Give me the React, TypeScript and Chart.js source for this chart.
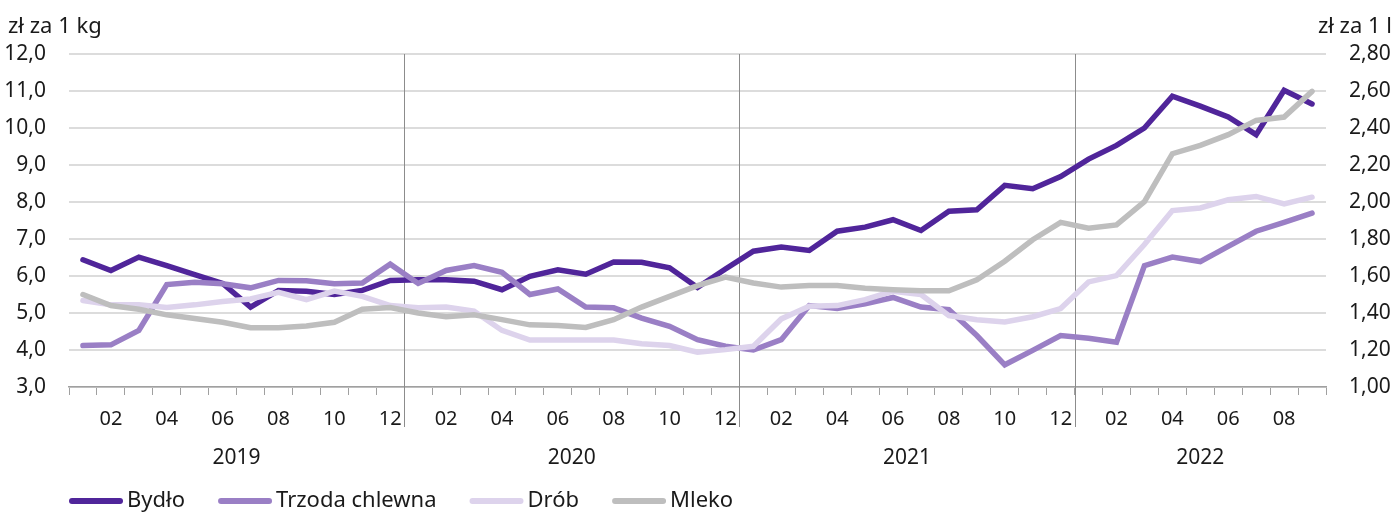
import { useEffect, useRef } from 'react';
import { Chart, registerables } from 'chart.js';

Chart.register(...registerables);

const FONT = '"Noto Sans", "Open Sans", sans-serif';
const TEXT = '#1a1a1a';

const years = ['2019', '2020', '2021', '2022'];
const monthsInYear = [12, 12, 12, 9];

const categories: string[] = [];
years.forEach((y, i) => {
  for (let m = 1; m <= monthsInYear[i]; m++) categories.push(`${y}-${String(m).padStart(2, '0')}`);
});

const leftAxisTitle = 'zł za 1 kg';
const rightAxisTitle = 'zł za 1 l';

const seriesNames = ['Bydło', 'Trzoda chlewna', 'Drób', 'Mleko'];
const seriesColors = ['#50259a', '#9a7fc5', '#ddd3ec', '#bebebe'];

const bydlo = [
  6.44, 6.15, 6.51, 6.28, 6.04, 5.8, 5.16, 5.61, 5.59, 5.5, 5.61, 5.88,
  5.9, 5.9, 5.86, 5.63, 5.99, 6.17, 6.05, 6.38, 6.37, 6.22, 5.69, 6.19,
  6.67, 6.78, 6.69, 7.21, 7.32, 7.52, 7.23, 7.75, 7.79, 8.45, 8.36, 8.69,
  9.16, 9.53, 10.0, 10.86, 10.59, 10.3, 9.82, 11.02, 10.65,
];
const trzoda = [
  4.12, 4.14, 4.53, 5.77, 5.83, 5.79, 5.68, 5.88, 5.87, 5.79, 5.81, 6.32,
  5.8, 6.15, 6.28, 6.1, 5.5, 5.65, 5.16, 5.14, 4.86, 4.64, 4.28, 4.1,
  4.0, 4.28, 5.2, 5.12, 5.25, 5.42, 5.16, 5.09, 4.39, 3.6, 3.99, 4.39,
  4.32, 4.21, 6.28, 6.51, 6.39, 6.8, 7.21, 7.45, 7.7,
];
const drob = [
  5.34, 5.22, 5.22, 5.15, 5.22, 5.31, 5.38, 5.56, 5.36, 5.59, 5.45, 5.2,
  5.14, 5.16, 5.05, 4.53, 4.27, 4.27, 4.27, 4.27, 4.17, 4.12, 3.94, 4.01,
  4.1, 4.84, 5.18, 5.2, 5.36, 5.59, 5.5, 4.93, 4.82, 4.76, 4.9, 5.12,
  5.84, 6.01, 6.85, 7.77, 7.84, 8.06, 8.15, 7.95, 8.13,
];
const mleko = [
  1.5, 1.44, 1.42, 1.39, 1.37, 1.35, 1.32, 1.32, 1.33, 1.35, 1.42, 1.43,
  1.4, 1.38, 1.39, 1.364, 1.336, 1.332, 1.322, 1.364, 1.432, 1.49, 1.548, 1.594,
  1.562, 1.54, 1.548, 1.548, 1.534, 1.526, 1.52, 1.52, 1.58, 1.68, 1.796, 1.89,
  1.858, 1.876, 2.002, 2.261, 2.306, 2.364, 2.441, 2.459, 2.598,
];

const leftMin = 3, leftMax = 12, leftStep = 1;
const rightMin = 1, rightMax = 2.8, rightStep = 0.2;

const decorPlugin = {
  id: 'decor',
  beforeDatasetsDraw(chart: any) {
    const { ctx, chartArea, scales } = chart;
    const x = scales.x;
    const band = x.getPixelForValue(1) - x.getPixelForValue(0);
    ctx.save();
    ctx.strokeStyle = '#8c8c8c';
    ctx.lineWidth = 1;
    let idx = 0;
    for (let i = 0; i < monthsInYear.length - 1; i++) {
      idx += monthsInYear[i];
      const px = Math.round(x.getPixelForValue(idx) - band / 2) + 0.5;
      ctx.beginPath();
      ctx.moveTo(px, chartArea.top);
      ctx.lineTo(px, 427);
      ctx.stroke();
    }
    ctx.restore();
  },
  afterDraw(chart: any) {
    const { ctx, scales } = chart;
    const x = scales.x;
    const band = x.getPixelForValue(1) - x.getPixelForValue(0);
    ctx.save();
    ctx.fillStyle = TEXT;
    ctx.font = `21px ${FONT}`;
    ctx.textBaseline = 'middle';
    ctx.textAlign = 'center';
    let start = 0;
    years.forEach((y, i) => {
      const a = x.getPixelForValue(start) - band / 2;
      const b = x.getPixelForValue(start + monthsInYear[i] - 1) + band / 2;
      ctx.fillText(y, (a + b) / 2, 458);
      start += monthsInYear[i];
    });
    // axis titles
    ctx.font = `22px ${FONT}`;
    ctx.textBaseline = 'alphabetic';
    ctx.textAlign = 'left';
    ctx.fillText(leftAxisTitle, 8, 33);
    ctx.textAlign = 'right';
    ctx.fillText(rightAxisTitle, 1392, 33);
    // legend
    ctx.textAlign = 'left';
    ctx.textBaseline = 'middle';
    let lx = 70;
    const ly = 501;
    seriesNames.forEach((name, i) => {
      ctx.strokeStyle = seriesColors[i];
      ctx.lineWidth = 6;
      ctx.lineCap = 'round';
      ctx.beginPath();
      ctx.moveTo(lx + 2, ly);
      ctx.lineTo(lx + 50, ly);
      ctx.stroke();
      ctx.fillStyle = TEXT;
      ctx.fillText(name, lx + 57, ly);
      lx += 57 + ctx.measureText(name).width + 34;
    });
    ctx.restore();
  },
};

export default function App() {
  const ref = useRef<HTMLCanvasElement>(null);
  useEffect(() => {
    if (!ref.current) return;
    const series = [bydlo, trzoda, drob, mleko];
    const chart = new Chart(ref.current, {
      type: 'line',
      data: {
        labels: categories,
        datasets: series.map((d, i) => ({
          label: seriesNames[i],
          data: d,
          borderColor: seriesColors[i],
          backgroundColor: seriesColors[i],
          borderWidth: 5.5,
          pointRadius: 0,
          pointHoverRadius: 0,
          tension: 0,
          borderCapStyle: 'round' as const,
          borderJoinStyle: 'miter' as const,
          yAxisID: i === 3 ? 'y1' : 'y',
          order: 4 - i,
        })),
      },
      options: {
        responsive: false,
        animation: false,
        devicePixelRatio: 1,
        layout: { padding: { top: 54, bottom: 0, left: 0, right: 0 } },
        plugins: { legend: { display: false }, tooltip: { enabled: false } },
        scales: {
          x: {
            type: 'category',
            offset: true,
            grid: {
              offset: true,
              drawOnChartArea: false,
              drawTicks: true,
              tickLength: 8,
              color: '#a0a0a0',
              lineWidth: 1,
            },
            border: { display: true, color: '#a0a0a0', width: 1.5 },
            ticks: {
              autoSkip: false,
              maxRotation: 0,
              minRotation: 0,
              padding: 12,
              color: TEXT,
              font: { family: FONT, size: 20 },
              callback: (_v: any, idx: number) => {
                const m = (idx % 12) + 1;
                return m % 2 === 0 ? String(m).padStart(2, '0') : '';
              },
            },
            afterFit: (s: any) => {
              s.height = 126;
            },
          },
          y: {
            position: 'left',
            min: leftMin,
            max: leftMax,
            grid: { color: '#dcdcdc', lineWidth: 2, drawTicks: false },
            border: { display: false },
            ticks: {
              stepSize: leftStep,
              padding: 23,
              color: TEXT,
              font: { family: FONT, size: 21 },
              callback: (v: any) => Number(v).toFixed(1).replace('.', ','),
            },
            afterFit: (s: any) => {
              s.width = 69;
            },
          },
          y1: {
            position: 'right',
            min: rightMin,
            max: rightMax,
            grid: { drawOnChartArea: false, drawTicks: false },
            border: { display: false },
            ticks: {
              stepSize: rightStep,
              padding: 23,
              color: TEXT,
              font: { family: FONT, size: 21 },
              callback: (v: any) => Number(v).toFixed(2).replace('.', ','),
            },
            afterFit: (s: any) => {
              s.width = 69;
            },
          },
        },
      },
      plugins: [decorPlugin],
    });
    return () => chart.destroy();
  }, []);
  return (
    <div style={{ position: 'fixed', left: 0, top: 0, width: 1395, height: 513, background: '#fff' }}>
      <canvas ref={ref} width={1395} height={513} style={{ display: 'block' }} />
    </div>
  );
}
